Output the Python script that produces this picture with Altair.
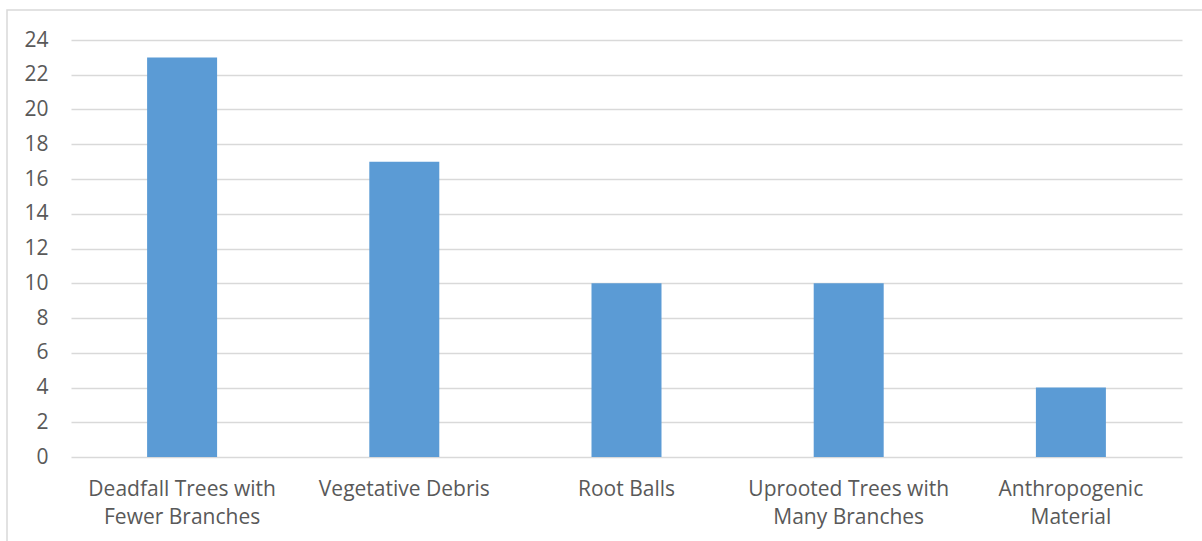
import altair as alt
import pandas as pd

# Debris categories (two-line labels split on "\n") and their counts
categories = [
    "Deadfall Trees with\nFewer Branches",
    "Vegetative Debris",
    "Root Balls",
    "Uprooted Trees with\nMany Branches",
    "Anthropogenic\nMaterial",
]
counts = [23, 17, 10, 10, 4]
y_ticks = list(range(0, 25, 2))

df = pd.DataFrame({"category": categories, "count": counts})

W, H = 1111, 417
PAD_L, PAD_T = 71, 40
PAD_R, PAD_B = 1202 - PAD_L - W, 541 - PAD_T - H

FONT = "Open Sans"
TEXT = "#595959"
GRID = "#D9D9D9"

bars = alt.Chart(df).mark_bar(color="#5B9BD5", width=alt.RelativeBandSize(0.315)).encode(
    x=alt.X(
        "category:N",
        sort=categories,
        scale=alt.Scale(paddingInner=0, paddingOuter=0),
        axis=alt.Axis(
            title=None,
            labelAngle=0,
            labelExpr="split(datum.label, '\\n')",
            labelFont=FONT,
            labelFontSize=21,
            labelColor=TEXT,
            labelPadding=21,
            labelLineHeight=28,
            labelBaseline="top",
            labelLimit=400,
            labelOverlap=False,
            ticks=False,
            domain=False,
            grid=False,
        ),
    ),
    y=alt.Y(
        "count:Q",
        scale=alt.Scale(domain=[0, 24], nice=False),
        axis=alt.Axis(
            title=None,
            values=y_ticks,
            labelFont=FONT,
            labelFontSize=21,
            labelColor=TEXT,
            labelPadding=23,
            ticks=False,
            domain=False,
            grid=True,
            gridColor=GRID,
            gridWidth=1.3,
        ),
    ),
)

# Outer chart frame, partly running off the right and bottom edges
frame = alt.Chart(pd.DataFrame({"f": [0]})).mark_rect(
    fill=None, stroke=GRID, strokeWidth=1.5
).encode(
    x=alt.value(7 - PAD_L),
    x2=alt.value(W + 60),
    y=alt.value(10 - PAD_T),
    y2=alt.value(H + 150),
)

chart = alt.layer(frame, bars).properties(
    width=W,
    height=H,
    autosize=alt.AutoSizeParams(type="none"),
    padding={"left": PAD_L, "top": PAD_T, "right": PAD_R, "bottom": PAD_B},
    background="white",
).configure_view(stroke=None)

chart.save("out.html", embed_options={"renderer": "svg", "actions": False})
